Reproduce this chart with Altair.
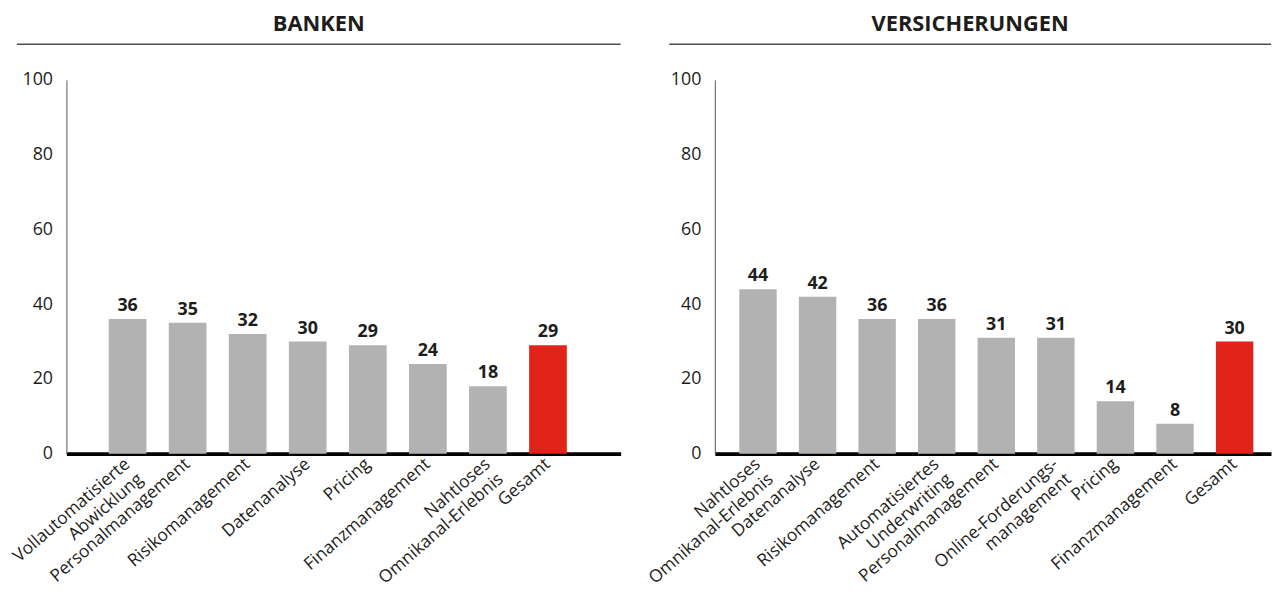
import altair as alt
import pandas as pd

# ---- data ----
banken_kategorien = [
    "Vollautomatisierte|Abwicklung", "Personalmanagement", "Risikomanagement",
    "Datenanalyse", "Pricing", "Finanzmanagement", "Nahtloses|Omnikanal-Erlebnis", "Gesamt",
]
banken_werte = [36, 35, 32, 30, 29, 24, 18, 29]

vers_kategorien = [
    "Nahtloses|Omnikanal-Erlebnis", "Datenanalyse", "Risikomanagement",
    "Automatisiertes|Underwriting", "Personalmanagement", "Online-Forderungs-|management",
    "Pricing", "Finanzmanagement", "Gesamt",
]
vers_werte = [44, 42, 36, 36, 31, 31, 14, 8, 30]

y_ticks = [0, 20, 40, 60, 80, 100]
titel = ["BANKEN", "VERSICHERUNGEN"]

FONT = "Open Sans"
GRAY = "#b2b2b2"
RED = "#e2231a"
INK = "#1d1d1b"
H = 377


def panel(title, cats, vals, width, pad_outer, align, line_x0, line_x1, bound_x0):
    df = pd.DataFrame({"kategorie": cats, "wert": vals})
    x_axis = alt.Axis(
        labelAngle=-41, labelAlign="right", labelBaseline="middle",
        labelExpr="split(datum.label, '|')", labelFont=FONT, labelFontSize=17.5,
        labelColor=INK, ticks=False, domainColor="#000000", domainWidth=4,
        labelPadding=8, labelLimit=0, labelLineHeight=20,
    )
    x = alt.X(
        "kategorie:N", sort=cats, title=None,
        scale=alt.Scale(paddingInner=0.372, paddingOuter=pad_outer, align=align),
        axis=x_axis,
    )
    y = alt.Y(
        "wert:Q", title=None, scale=alt.Scale(domain=[0, 100]),
        axis=alt.Axis(
            values=y_ticks, grid=False, ticks=False, domainColor="#555555",
            domainWidth=1, labelFont=FONT, labelFontSize=18, labelColor=INK,
            labelPadding=14,
        ),
    )
    base = alt.Chart(df)
    bars = base.mark_bar().encode(
        x=x, y=y,
        color=alt.when(alt.datum.kategorie == "Gesamt").then(alt.value(RED)).otherwise(alt.value(GRAY)),
    )
    labels = base.mark_text(
        font=FONT, fontSize=18, fontWeight="bold", color=INK,
        baseline="alphabetic", dy=-8,
    ).encode(x=alt.X("kategorie:N", sort=cats), y=alt.Y("wert:Q"), text=alt.Text("wert:Q"))

    one = pd.DataFrame({"t": [title]})
    rule = alt.Chart(one).mark_rule(color="#4d4d4d", strokeWidth=1.5).encode(
        x=alt.value(line_x0), x2=alt.value(line_x1), y=alt.value(-36)
    )
    # invisible spacer that fixes the panel's left bound
    spacer = alt.Chart(one).mark_rule(strokeWidth=1, opacity=0).encode(
        x=alt.value(bound_x0), x2=alt.value(0), y=alt.value(0)
    )
    ttl = alt.Chart(one).mark_text(
        font=FONT, fontSize=22, fontWeight="bold", color=INK, align="center", baseline="middle"
    ).encode(x=alt.value((line_x0 + line_x1) / 2), y=alt.value(-56), text="t:N")
    return alt.layer(bars, labels, rule, spacer, ttl).properties(width=width, height=H)


left = panel(titel[0], banken_kategorien, banken_werte, 559, 0.80, 0.44, -50, 559, -66.5)
right = panel(titel[1], vers_kategorien, vers_werte, 561, 0.354, 0.58, -46, 561, -70)

chart = (
    alt.hconcat(left, right, spacing=10)
    .properties(padding={"left": 0, "top": 11, "right": 0, "bottom": 0}, background="white")
    .resolve_scale(x="independent", y="independent")
    .configure_view(stroke=None, strokeWidth=0)
)

chart.save("out.html", embed_options={"renderer": "svg", "actions": False})
